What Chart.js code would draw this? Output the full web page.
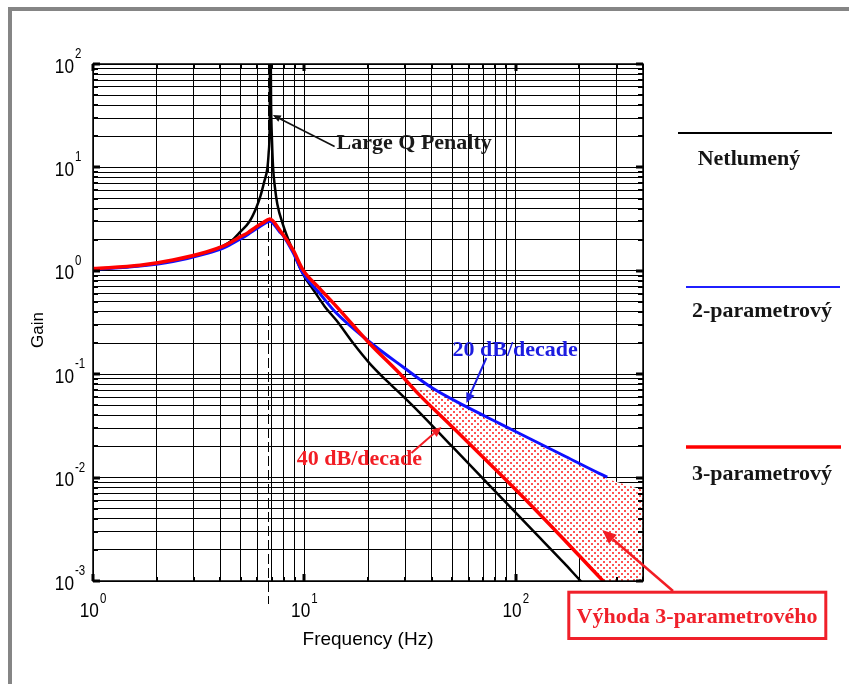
<!DOCTYPE html>
<html>
<head>
<meta charset="utf-8">
<title>Gain vs. frequency</title>
<script src="https://cdn.jsdelivr.net/npm/chart.js@4.4.1/dist/chart.umd.min.js"></script>
<style>
  html, body { margin: 0; padding: 0; background: #fff; }
  canvas { display: block; }
</style>
</head>
<body>
<canvas id="chart" width="849" height="684"></canvas>
<script>
// ---- Series data: frequency (Hz) and gain ----
const seriesNames = ['Netlumený', '2-parametrový', '3-parametrový'];

// undamped isolator
const freqUndamped = [1, 1.67, 2.39, 3.44, 4.13, 4.52, 4.95, 5.5, 5.93, 6.2, 6.45, 6.69, 6.78, 6.85, 6.9, 6.96, 7.03, 7.11, 7.25, 7.45, 7.92, 8.84, 9.85, 11, 12.5, 14.2, 17, 20.3, 24, 28.2, 35, 50, 83.6, 120, 170, 203, 260];
const gainUndamped = [1.04, 1.12, 1.25, 1.5, 1.74, 1.95, 2.35, 3.0, 4.1, 5.3, 7.2, 10, 14, 25, 300, 40, 18, 10, 6.5, 4.4, 2.8, 1.55, 0.93, 0.66, 0.45, 0.33, 0.2, 0.128, 0.09, 0.066, 0.0428, 0.02, 0.0067, 0.0031, 0.00148, 0.001, 0.0006];

// two-parameter damper
const freqTwoParam = [1, 1.67, 2.39, 3.44, 4.13, 4.52, 4.95, 5.41, 5.93, 6.38, 6.86, 7.64, 7.92, 8.84, 9.85, 11.8, 14.2, 20.3, 29.2, 40.5, 58.3, 83.6, 120, 173, 248, 271];
const gainTwoParam = [1.03, 1.11, 1.23, 1.47, 1.66, 1.82, 2.02, 2.25, 2.55, 2.8, 3.02, 2.38, 2.2, 1.5, 0.945, 0.606, 0.388, 0.206, 0.118, 0.073, 0.0485, 0.0335, 0.0231, 0.0159, 0.011, 0.0101];

// three-parameter damper
const freqThreeParam = [1, 1.67, 2.39, 3.44, 4.13, 4.52, 4.95, 5.41, 5.93, 6.38, 6.86, 7.64, 8.84, 9.85, 11.8, 14.2, 20.3, 29.2, 33.8, 50, 83.6, 120, 173, 257, 400];
const gainThreeParam = [1.05, 1.13, 1.27, 1.52, 1.73, 1.9, 2.12, 2.34, 2.67, 2.92, 3.17, 2.48, 1.59, 1.02, 0.677, 0.45, 0.199, 0.0946, 0.0678, 0.031, 0.011, 0.00523, 0.0024, 0.00102, 0.00042];

// upper edge of the shaded advantage band (lower edge is the 3-parameter curve)
const freqBand = [33.8, 40.5, 58.3, 83.6, 120, 173, 248, 271, 400];
const gainBand = [0.07, 0.07, 0.046, 0.032, 0.022, 0.0152, 0.0105, 0.0097, 0.0076];

// ---- Axes ----
const xRange = [1, 400];
const yRange = [0.001, 100];
const xDecades = [1, 10, 100];
const xExponents = ['0', '1', '2'];
const yDecades = [0.001, 0.01, 0.1, 1, 10, 100];
const yExponents = ['-3', '-2', '-1', '0', '1', '2'];
const minorSteps = [2, 3, 4, 5, 6, 7, 8, 9];
const resonanceHz = 6.75;

// ---- Callouts, anchored in data units [Hz, gain] ----
const noteLargeQ = { text: 'Large Q Penalty', at: [14.2, 15.1], tail: [13.9, 15.9], tip: [7.09, 32.1] };
const note20dB = { text: '20 dB/decade', at: [50.2, 0.15], tail: [72.6, 0.1435], tip: [58.4, 0.0527] };
const note40dB = { text: '40 dB/decade', at: [9.2, 0.01324], tail: [32.1, 0.0173], tip: [44.5, 0.0309] };
const advantageText = 'Výhoda 3-parametrového';
const advantageTip = [256.6, 0.00311];

function toPoints(xs, ys) { return xs.map((x, i) => ({ x: x, y: ys[i] })); }

function gridValues(decades, max) {
  const out = [];
  decades.forEach(d => {
    out.push(d);
    minorSteps.forEach(m => { const v = d * m; if (v <= max * 1.0001) out.push(v); });
  });
  return out.filter(v => v <= max * 1.0001);
}
const xGrid = gridValues(xDecades, xRange[1]);
const yGrid = gridValues(yDecades, yRange[1]);

function dotPattern() {
  const t = document.createElement('canvas');
  t.width = 6; t.height = 6;
  const c = t.getContext('2d');
  c.fillStyle = '#ffffff';
  c.fillRect(0, 0, 6, 6);
  c.fillStyle = '#ff5252';
  c.fillRect(0, 0, 2, 2);
  c.fillRect(3, 3, 2, 2);
  return c.createPattern(t, 'repeat');
}

const SANS = '"Liberation Sans", Arial, Helvetica, sans-serif';
const SERIF = '"Liberation Serif", "Times New Roman", serif';
const NARROW = 0.82;

function drawPower(ctx, exp, x, baseY, expY, centered) {
  ctx.save();
  ctx.fillStyle = '#000';
  ctx.textAlign = 'left';
  ctx.textBaseline = 'alphabetic';
  ctx.font = '21px ' + SANS;
  const wBase = ctx.measureText('10').width * NARROW;
  ctx.font = '14px ' + SANS;
  const wExp = ctx.measureText(exp).width * NARROW;
  const left = centered ? x - (wBase + 1 + wExp) / 2 : x - wBase;
  ctx.translate(left, 0);
  ctx.scale(NARROW, 1);
  ctx.font = '21px ' + SANS;
  ctx.fillText('10', 0, baseY);
  ctx.font = '14px ' + SANS;
  ctx.fillText(exp, (wBase + 1) / NARROW, expY);
  ctx.restore();
}

function arrow(ctx, x1, y1, x2, y2, color, width, headLen, headHalf) {
  const a = Math.atan2(y2 - y1, x2 - x1);
  const bx = x2 - Math.cos(a) * headLen, by = y2 - Math.sin(a) * headLen;
  ctx.save();
  ctx.strokeStyle = color; ctx.fillStyle = color; ctx.lineWidth = width;
  ctx.beginPath(); ctx.moveTo(x1, y1); ctx.lineTo(bx, by); ctx.stroke();
  ctx.beginPath();
  ctx.moveTo(x2, y2);
  ctx.lineTo(bx + Math.sin(a) * headHalf, by - Math.cos(a) * headHalf);
  ctx.lineTo(bx - Math.sin(a) * headHalf, by + Math.cos(a) * headHalf);
  ctx.closePath(); ctx.fill();
  ctx.restore();
}

const decorations = {
  id: 'decorations',
  beforeDraw(chart) {
    const ctx = chart.ctx;
    ctx.save();
    ctx.fillStyle = '#ffffff';
    ctx.fillRect(0, 0, chart.width, chart.height);
    ctx.fillStyle = '#858585';
    ctx.fillRect(8, 7, chart.width - 8, 4);
    ctx.fillRect(8, 7, 4, chart.height - 7);
    ctx.restore();
  },
  beforeDatasetsDraw(chart) {
    const { ctx, chartArea, scales } = chart;
    const rx = Math.round(scales.x.getPixelForValue(resonanceHz)) + 0.5;
    ctx.save();
    ctx.strokeStyle = '#000';
    ctx.lineWidth = 1;
    ctx.setLineDash([10, 4]);
    ctx.beginPath();
    ctx.moveTo(rx, chartArea.top);
    ctx.lineTo(rx, chartArea.bottom + 23);
    ctx.stroke();
    ctx.restore();
  },
  afterDatasetsDraw(chart) {
    const { ctx, chartArea: a, scales } = chart;
    const P = (p) => [scales.x.getPixelForValue(p[0]), scales.y.getPixelForValue(p[1])];

    // axis box with inward ticks
    ctx.save();
    ctx.strokeStyle = '#000';
    ctx.lineWidth = 1.5;
    ctx.strokeRect(a.left, a.top, a.right - a.left, a.bottom - a.top);
    ctx.fillStyle = '#000';
    xGrid.forEach(v => {
      const x = Math.round(scales.x.getPixelForValue(v));
      const major = xDecades.includes(v);
      const len = major ? 7 : 4, w = major ? 3 : 2;
      ctx.fillRect(x - w / 2, a.bottom - len, w, len);
      ctx.fillRect(x - w / 2, a.top, w, len);
    });
    yGrid.forEach(v => {
      const y = Math.round(scales.y.getPixelForValue(v));
      const major = yDecades.includes(v);
      const len = major ? 7 : 5, w = major ? 3 : 2;
      ctx.fillRect(a.left, y - w / 2, len, w);
      ctx.fillRect(a.right - len, y - w / 2, len, w);
    });
    ctx.restore();

    // callouts inside the plot
    let t = P(noteLargeQ.tail), h = P(noteLargeQ.tip);
    arrow(ctx, t[0], t[1], h[0], h[1], '#111', 1.6, 8, 3.5);
    t = P(note20dB.tail); h = P(note20dB.tip);
    arrow(ctx, t[0], t[1], h[0], h[1], '#1c1ce0', 2, 10, 4.5);
    t = P(note40dB.tail); h = P(note40dB.tip);
    arrow(ctx, t[0], t[1], h[0], h[1], '#f21d24', 2, 10, 4.5);

    ctx.save();
    ctx.textBaseline = 'alphabetic';
    ctx.textAlign = 'left';
    ctx.font = 'bold 22px ' + SERIF;
    let p = P(noteLargeQ.at);
    ctx.fillStyle = '#1a1a1a';
    ctx.fillText(noteLargeQ.text, p[0], p[1]);
    p = P(note20dB.at);
    ctx.fillStyle = '#1c1ce0';
    ctx.fillText(note20dB.text, p[0], p[1]);
    p = P(note40dB.at);
    ctx.fillStyle = '#f21d24';
    ctx.fillText(note40dB.text, p[0], p[1]);
    ctx.restore();

    // advantage callout
    const tip = P(advantageTip);
    arrow(ctx, 673, 591, tip[0], tip[1], '#f21d24', 2.5, 14, 6);
  },
  afterDraw(chart) {
    const { ctx, chartArea: a, scales } = chart;

    // tick labels
    xDecades.forEach((v, i) => {
      drawPower(ctx, xExponents[i], scales.x.getPixelForValue(v), 617, 603, true);
    });
    yDecades.forEach((v, i) => {
      const y = scales.y.getPixelForValue(v);
      drawPower(ctx, yExponents[i], 74, y + 8.5, y - 6, false);
    });

    // axis titles
    ctx.save();
    ctx.fillStyle = '#000';
    ctx.textAlign = 'center';
    ctx.textBaseline = 'alphabetic';
    ctx.font = '19px ' + SANS;
    ctx.fillText('Frequency (Hz)', (a.left + a.right) / 2, 645);
    ctx.translate(43, 330);
    ctx.rotate(-Math.PI / 2);
    ctx.font = '17px ' + SANS;
    ctx.fillText('Gain', 0, 0);
    ctx.restore();

    // legend
    ctx.save();
    ctx.lineCap = 'butt';
    ctx.strokeStyle = '#000'; ctx.lineWidth = 2;
    ctx.beginPath(); ctx.moveTo(678, 133); ctx.lineTo(832, 133); ctx.stroke();
    ctx.strokeStyle = '#1f1fff'; ctx.lineWidth = 2;
    ctx.beginPath(); ctx.moveTo(686, 287); ctx.lineTo(840, 287); ctx.stroke();
    ctx.strokeStyle = '#ff0000'; ctx.lineWidth = 3.5;
    ctx.beginPath(); ctx.moveTo(686, 447); ctx.lineTo(841, 447); ctx.stroke();
    ctx.fillStyle = '#151515';
    ctx.textAlign = 'center';
    ctx.font = 'bold 22px ' + SERIF;
    ctx.fillText(seriesNames[0], 749, 165);
    ctx.fillText(seriesNames[1], 762, 317);
    ctx.fillText(seriesNames[2], 762, 480);

    // boxed caption
    ctx.strokeStyle = '#f0202a'; ctx.lineWidth = 3;
    ctx.strokeRect(568.8, 592.2, 257, 46.3);
    ctx.fillStyle = '#f0202a';
    ctx.font = 'bold 22px ' + SERIF;
    ctx.fillText(advantageText, 697, 623);
    ctx.restore();
  }
};

const lineStyle = { pointRadius: 0, pointHoverRadius: 0, cubicInterpolationMode: 'monotone', fill: false };

new Chart(document.getElementById('chart'), {
  type: 'line',
  data: {
    datasets: [
      Object.assign({ label: seriesNames[2], data: toPoints(freqThreeParam, gainThreeParam), borderColor: '#ff0000', borderWidth: 3.5 }, lineStyle),
      Object.assign({ label: seriesNames[1], data: toPoints(freqTwoParam, gainTwoParam), borderColor: '#1010ff', borderWidth: 3 }, lineStyle),
      Object.assign({ label: seriesNames[0], data: toPoints(freqUndamped, gainUndamped), borderColor: '#000000', borderWidth: 2.5 }, lineStyle),
      {
        label: 'band',
        data: toPoints(freqBand, gainBand),
        borderWidth: 0,
        borderColor: 'rgba(0,0,0,0)',
        backgroundColor: dotPattern(),
        pointRadius: 0,
        pointHoverRadius: 0,
        tension: 0,
        fill: 0
      }
    ]
  },
  options: {
    responsive: false,
    animation: false,
    devicePixelRatio: 1,
    events: [],
    layout: { padding: { left: 93, top: 64, right: 206, bottom: 103 } },
    plugins: {
      legend: { display: false },
      title: { display: false },
      tooltip: { enabled: false }
    },
    scales: {
      x: {
        type: 'logarithmic',
        min: xRange[0],
        max: xRange[1],
        afterBuildTicks: (s) => { s.ticks = xGrid.map(v => ({ value: v })); },
        ticks: { display: false },
        grid: { color: '#000', lineWidth: 1, drawTicks: false },
        border: { display: false }
      },
      y: {
        type: 'logarithmic',
        min: yRange[0],
        max: yRange[1],
        afterBuildTicks: (s) => { s.ticks = yGrid.map(v => ({ value: v })); },
        ticks: { display: false },
        grid: { color: '#000', lineWidth: 1, drawTicks: false },
        border: { display: false }
      }
    }
  },
  plugins: [decorations]
});
</script>
</body>
</html>
